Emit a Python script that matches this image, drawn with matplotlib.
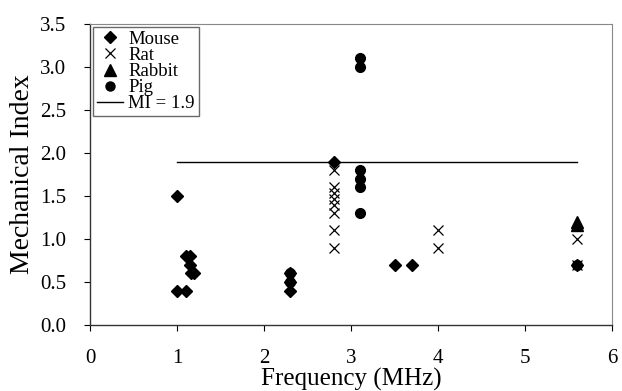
import matplotlib
matplotlib.use("Agg")
import matplotlib.pyplot as plt
from matplotlib.lines import Line2D

plt.rcParams['font.family'] = ['Liberation Serif', 'DejaVu Serif']

# Exposure data: frequency (MHz) vs. mechanical index, by species
mouse_f = [1.0, 1.0, 1.1, 1.1, 1.15, 1.15, 1.16, 1.2, 2.3, 2.3, 2.3, 2.8, 3.5, 3.7, 5.6]
mouse_mi = [1.5, 0.4, 0.4, 0.8, 0.8, 0.7, 0.6, 0.6, 0.6, 0.5, 0.4, 1.9, 0.7, 0.7, 0.7]

rat_f = [2.8, 2.8, 2.8, 2.8, 2.8, 2.8, 2.8, 2.8, 4.0, 4.0, 5.6, 5.6]
rat_mi = [1.8, 1.6, 1.53, 1.46, 1.4, 1.3, 1.1, 0.9, 1.1, 0.9, 1.0, 0.7]

rabbit_f = [5.6, 5.6]
rabbit_mi = [1.2, 1.16]

pig_f = [2.3, 2.3, 3.1, 3.1, 3.1, 3.1, 3.1, 3.1, 5.6]
pig_mi = [0.6, 0.5, 3.1, 3.0, 1.8, 1.7, 1.6, 1.3, 0.7]

mi_limit = 1.9
limit_span = [1.0, 5.6]

x_ticks = [0, 1, 2, 3, 4, 5, 6]
y_ticks = [0.0, 0.5, 1.0, 1.5, 2.0, 2.5, 3.0, 3.5]

fig = plt.figure(figsize=(6.22, 3.91), dpi=100)
ax = fig.add_axes([0.1447, 0.1688, 0.984 - 0.1447, 0.9386 - 0.1688])

ax.plot(limit_span, [mi_limit, mi_limit], color='black', lw=1.0, label='MI = 1.9', zorder=1)
ax.plot(mouse_f, mouse_mi, linestyle='none', marker='D', markersize=6.5,
        color='black', label='Mouse', zorder=3)
ax.plot(rat_f, rat_mi, linestyle='none', marker='x', markersize=7,
        markeredgewidth=0.9, color='black', label='Rat', zorder=3)
ax.plot(rabbit_f, rabbit_mi, linestyle='none', marker='^', markersize=9,
        color='black', label='Rabbit', zorder=3)
ax.plot(pig_f, pig_mi, linestyle='none', marker='o', markersize=7,
        color='black', label='Pig', zorder=3)

ax.set_xlim(0, 6)
ax.set_ylim(0, 3.5)
ax.set_xticks(x_ticks)
ax.set_xticklabels([str(t) for t in x_ticks])
ax.set_yticks(y_ticks)
ax.set_yticklabels([f"{t:.1f}" for t in y_ticks])
ax.tick_params(direction='out', length=4, width=0.8, labelsize=15, colors='black')
ax.tick_params(axis='x', pad=13)
ax.tick_params(axis='y', pad=13)

for side in ['left', 'bottom']:
    ax.spines[side].set_color('#333333')
    ax.spines[side].set_linewidth(1.0)
for side in ['top', 'right']:
    ax.spines[side].set_color('#888888')
    ax.spines[side].set_linewidth(0.8)

ax.set_xlabel('Frequency (MHz)', fontsize=18, labelpad=0)
ax.set_ylabel('Mechanical Index', fontsize=20, labelpad=4)

handles = [
    Line2D([], [], linestyle='none', marker='D', markersize=6, color='black'),
    Line2D([], [], linestyle='none', marker='x', markersize=7, markeredgewidth=0.9, color='black'),
    Line2D([], [], linestyle='none', marker='^', markersize=9, color='black'),
    Line2D([], [], linestyle='none', marker='o', markersize=6.5, color='black'),
    Line2D([], [], color='black', lw=1.0),
]
labels = ['Mouse', 'Rat', 'Rabbit', 'Pig', 'MI = 1.9']
leg = ax.legend(handles, labels, loc='upper left', bbox_to_anchor=(0.0, 1.0),
                borderaxespad=0.15, frameon=True, fancybox=False, fontsize=13.5,
                handlelength=1.4, handletextpad=0.3, labelspacing=-0.05,
                borderpad=0.2)
leg.get_frame().set_edgecolor('#444444')
leg.get_frame().set_linewidth(1.0)

fig.savefig('out.png', dpi=100)
